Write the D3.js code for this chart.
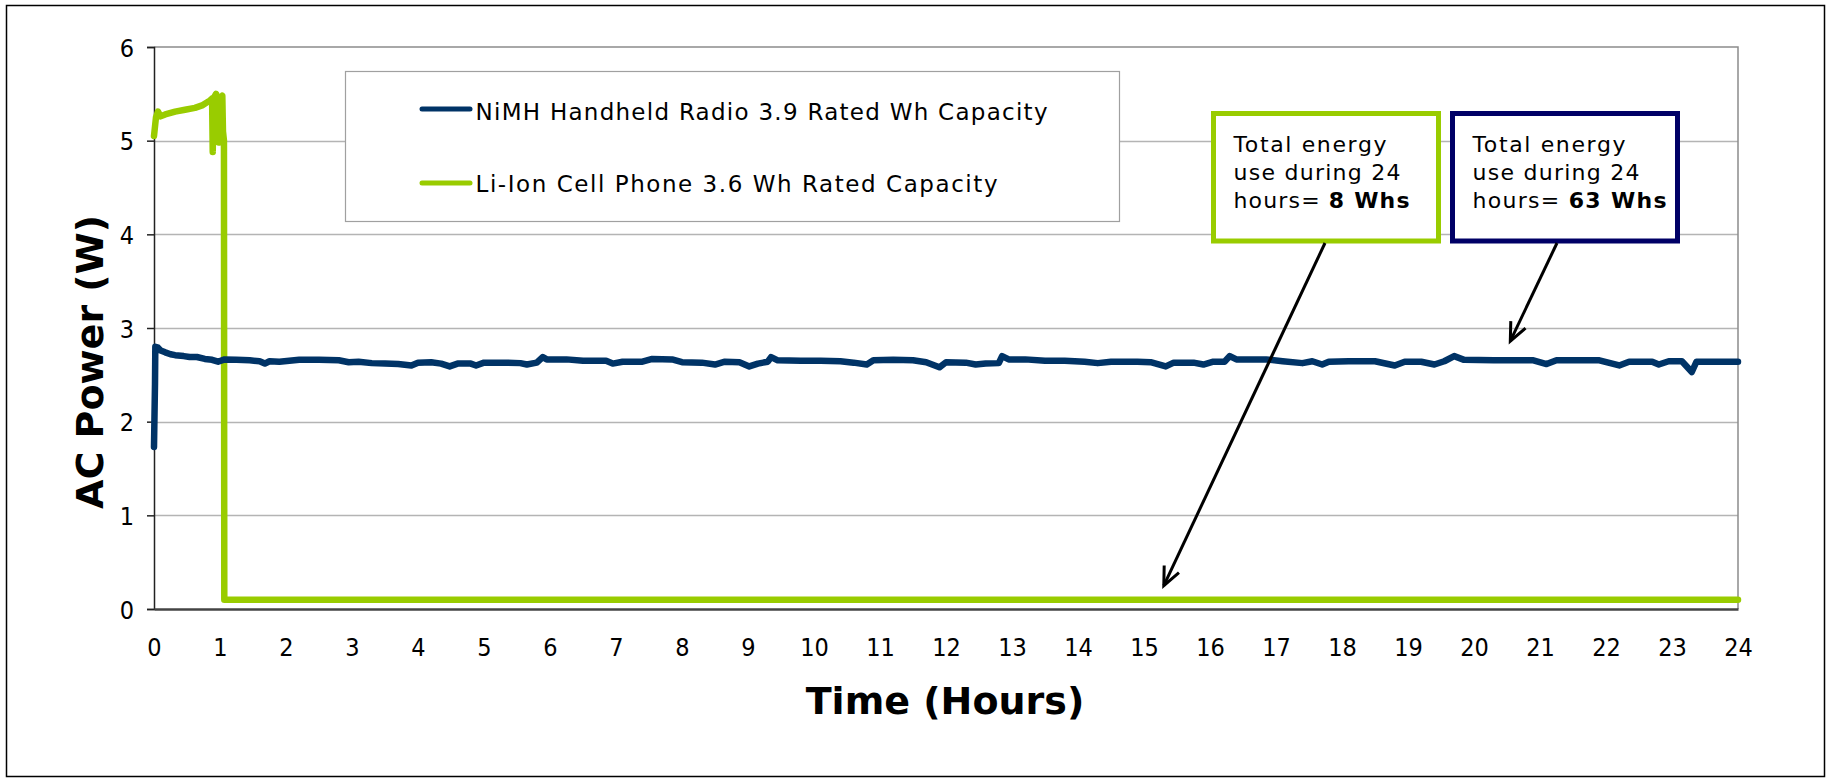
<!DOCTYPE html>
<html><head><meta charset="utf-8">
<script src="https://cdn.jsdelivr.net/npm/d3@7"></script>
<style>body{margin:0;background:#fff} svg{display:block}</style>
</head><body><svg id="c" width="1832" height="781"></svg>
<script>
// ---- data ----
const xTicks = [0,1,2,3,4,5,6,7,8,9,10,11,12,13,14,15,16,17,18,19,20,21,22,23,24];
const yTicks = [0,1,2,3,4,5,6];
const seriesNames = ["NiMH Handheld Radio 3.9 Rated Wh Capacity", "Li-Ion Cell Phone 3.6 Wh Rated Capacity"];
const nimhHours = [0,0.015,0.02,0.06,0.10,0.17,0.25,0.32,0.45,0.54,0.65,0.77,0.88,0.97,1.07,1.25,1.45,1.60,1.68,1.75,1.90,2.05,2.20,2.50,2.80,2.95,3.10,3.30,3.50,3.70,3.90,4.00,4.20,4.35,4.48,4.60,4.80,4.88,5.00,5.30,5.55,5.65,5.80,5.89,5.95,6.25,6.50,6.85,6.95,7.10,7.40,7.55,7.85,8.00,8.30,8.50,8.65,8.87,9.02,9.15,9.30,9.35,9.45,9.80,10.10,10.40,10.60,10.80,10.90,11.20,11.50,11.70,11.90,12.00,12.30,12.45,12.60,12.80,12.85,12.95,13.20,13.50,13.80,14.10,14.30,14.50,14.90,15.10,15.33,15.45,15.75,15.90,16.05,16.22,16.30,16.40,16.85,17.10,17.40,17.55,17.70,17.80,18.10,18.50,18.80,18.95,19.20,19.40,19.55,19.70,19.85,20.30,20.90,21.10,21.25,21.90,22.20,22.35,22.70,22.80,22.95,23.15,23.30,23.37,24.00];
const nimhPower = [1.73,2.40,2.80,2.79,2.76,2.74,2.72,2.71,2.70,2.69,2.69,2.67,2.66,2.64,2.665,2.66,2.655,2.645,2.62,2.645,2.64,2.65,2.66,2.66,2.655,2.635,2.64,2.625,2.62,2.615,2.60,2.63,2.635,2.62,2.59,2.62,2.62,2.60,2.63,2.63,2.625,2.61,2.63,2.69,2.665,2.665,2.65,2.65,2.62,2.64,2.64,2.67,2.665,2.635,2.63,2.61,2.64,2.635,2.59,2.62,2.64,2.69,2.655,2.65,2.65,2.645,2.63,2.61,2.655,2.66,2.655,2.635,2.58,2.635,2.63,2.61,2.62,2.625,2.70,2.665,2.665,2.65,2.65,2.64,2.625,2.64,2.64,2.635,2.59,2.63,2.63,2.61,2.64,2.64,2.70,2.665,2.665,2.645,2.625,2.645,2.61,2.64,2.645,2.645,2.60,2.64,2.64,2.61,2.645,2.70,2.66,2.655,2.655,2.615,2.655,2.655,2.60,2.64,2.64,2.61,2.645,2.645,2.53,2.64,2.64];
const liionHours = [0,0.03,0.06,0.10,0.17,0.32,0.47,0.62,0.74,0.85,0.88,0.89,0.90,0.94,0.97,0.98,1.00,1.035,1.045,1.06,1.065,24];
const liionPower = [5.05,5.25,5.31,5.26,5.28,5.31,5.33,5.35,5.38,5.43,5.45,4.88,5.45,5.50,5.45,4.98,5.45,5.48,5.10,5.00,0.10,0.10];
const seriesColors = ["#003366", "#99cc00"];
const annotations = [
  {lines:["Total energy","use during 24","hours= "], bold:"8 Whs", color:"#99cc00", pointHour:15.3, pointPower:0.25},
  {lines:["Total energy","use during 24","hours= "], bold:"63 Whs", color:"#000066", pointHour:20.55, pointPower:2.86}
];

// ---- layout ----
const svg = d3.select("#c");
const W = 1832, H = 781;
const L = 154, R = 1738, T = 47, B = 609;
const x = d3.scaleLinear().domain([0,24]).range([L,R]);
const y = d3.scaleLinear().domain([0,6]).range([B,T]);

svg.append("rect").attr("width",W).attr("height",H).attr("fill","#fff");
// outer frame
svg.append("rect").attr("x",6.5).attr("y",5.5).attr("width",1818).attr("height",771)
  .attr("fill","none").attr("stroke","#000").attr("stroke-width",1.5);

// grid
svg.append("g").selectAll("line").data(yTicks.filter(d=>d>0 && d<6)).join("line")
  .attr("x1",L).attr("x2",R).attr("y1",d=>Math.round(y(d))+0.5).attr("y2",d=>Math.round(y(d))+0.5)
  .attr("stroke","#b4b4b4").attr("stroke-width",1.5);
// plot border top/right
svg.append("path").attr("d",`M${L},${T}H${R}V${B}`).attr("fill","none").attr("stroke","#8c8c8c").attr("stroke-width",1.5);

const tickFont = "'DejaVu Sans Condensed','DejaVu Sans',sans-serif";
// y axis
const yAxis = svg.append("g").attr("transform",`translate(${L},0)`)
  .call(d3.axisLeft(y).tickValues(yTicks).tickSize(7).tickPadding(13).tickFormat(d3.format("d")));
yAxis.select(".domain").attr("stroke","#222").attr("stroke-width",1.5);
yAxis.selectAll(".tick line").attr("stroke","#222").attr("stroke-width",1.5);
yAxis.selectAll("text").attr("font-family",tickFont).attr("font-stretch","condensed").attr("font-size",25).attr("fill","#000").attr("dy","0.36em");

// x axis
const xAxis = svg.append("g").attr("transform",`translate(0,${B})`)
  .call(d3.axisBottom(x).tickValues(xTicks).tickSize(0).tickPadding(47).tickFormat(d3.format("d")));
xAxis.select(".domain").attr("stroke","#444").attr("stroke-width",2.5);
xAxis.selectAll("text").attr("font-family",tickFont).attr("font-stretch","condensed").attr("font-size",25).attr("fill","#000").attr("dy","0");

// axis titles
svg.append("text").attr("transform","translate(103,362) rotate(-90)").attr("text-anchor","middle")
  .attr("font-family","'DejaVu Sans',sans-serif").attr("font-weight","bold").attr("font-size",38).attr("fill","#000")
  .text("AC Power (W)");
svg.append("text").attr("x",945).attr("y",714).attr("text-anchor","middle")
  .attr("font-family","'DejaVu Sans',sans-serif").attr("font-weight","bold").attr("font-size",38).attr("fill","#000")
  .text("Time (Hours)");

// series
const line = d3.line().x(d=>x(d[0])).y(d=>y(d[1]));
const nimh = nimhHours.map((h,i)=>[h,nimhPower[i]]);
const liion = liionHours.map((h,i)=>[h,liionPower[i]]);
svg.append("path").datum(liion).attr("d",line).attr("fill","none").attr("stroke",seriesColors[1])
  .attr("stroke-width",6.5).attr("stroke-linejoin","round").attr("stroke-linecap","round");
svg.append("path").datum(nimh).attr("d",line).attr("fill","none").attr("stroke",seriesColors[0])
  .attr("stroke-width",6.5).attr("stroke-linejoin","round").attr("stroke-linecap","round");

// legend
const lg = svg.append("g");
lg.append("rect").attr("x",345.5).attr("y",71.5).attr("width",774).attr("height",150)
  .attr("fill","#fff").attr("stroke","#a0a0a0").attr("stroke-width",1.2);
const legY = [109, 183];
const legW = [572, 522];
seriesNames.forEach((n,i)=>{
  lg.append("line").attr("x1",422).attr("x2",470).attr("y1",legY[i]).attr("y2",legY[i])
    .attr("stroke",seriesColors[i]).attr("stroke-width",5).attr("stroke-linecap","round");
  lg.append("text").attr("x",475.5).attr("y",legY[i]+ (i===0?11:9)).attr("font-family","'DejaVu Sans',sans-serif")
    .attr("font-size",23).attr("fill","#000").attr("textLength",legW[i]).attr("lengthAdjust","spacing").text(n);
});

// annotations
const boxes = [{x:1213.5,w:225},{x:1452.5,w:225}];
const lineW = [[153,167,176],[153,167,194]];
annotations.forEach((a,i)=>{
  const b = boxes[i];
  const g = svg.append("g");
  g.append("rect").attr("x",b.x).attr("y",113.5).attr("width",b.w).attr("height",127.5)
    .attr("fill","#fff").attr("stroke",a.color).attr("stroke-width",5);
  const tx = b.x + 20;
  a.lines.forEach((ln,j)=>{
    const t = g.append("text").attr("x",tx).attr("y",152+j*27.8).attr("font-family","'DejaVu Sans',sans-serif")
      .attr("font-size",22).attr("fill","#000").attr("textLength",lineW[i][j]).attr("lengthAdjust","spacing");
    t.append("tspan").text(ln);
    if(j===2) t.append("tspan").attr("font-weight","bold").text(a.bold);
  });
});

// arrows
const arrowStarts = [[1325,243],[1557,243]];
annotations.forEach((a,i)=>{
  const [sx,sy] = arrowStarts[i];
  const ex = x(a.pointHour), ey = y(a.pointPower);
  svg.append("line").attr("x1",sx).attr("y1",sy).attr("x2",ex).attr("y2",ey)
    .attr("stroke","#000").attr("stroke-width",3);
  const ang = Math.atan2(sy-ey, sx-ex);
  const hl = 20, spread = 0.42;
  const p1 = [ex+hl*Math.cos(ang-spread), ey+hl*Math.sin(ang-spread)];
  const p2 = [ex+hl*Math.cos(ang+spread), ey+hl*Math.sin(ang+spread)];
  svg.append("path").attr("d",`M${p1[0]},${p1[1]}L${ex},${ey}L${p2[0]},${p2[1]}`)
    .attr("fill","none").attr("stroke","#000").attr("stroke-width",3).attr("stroke-linejoin","miter");
});
</script></body></html>
